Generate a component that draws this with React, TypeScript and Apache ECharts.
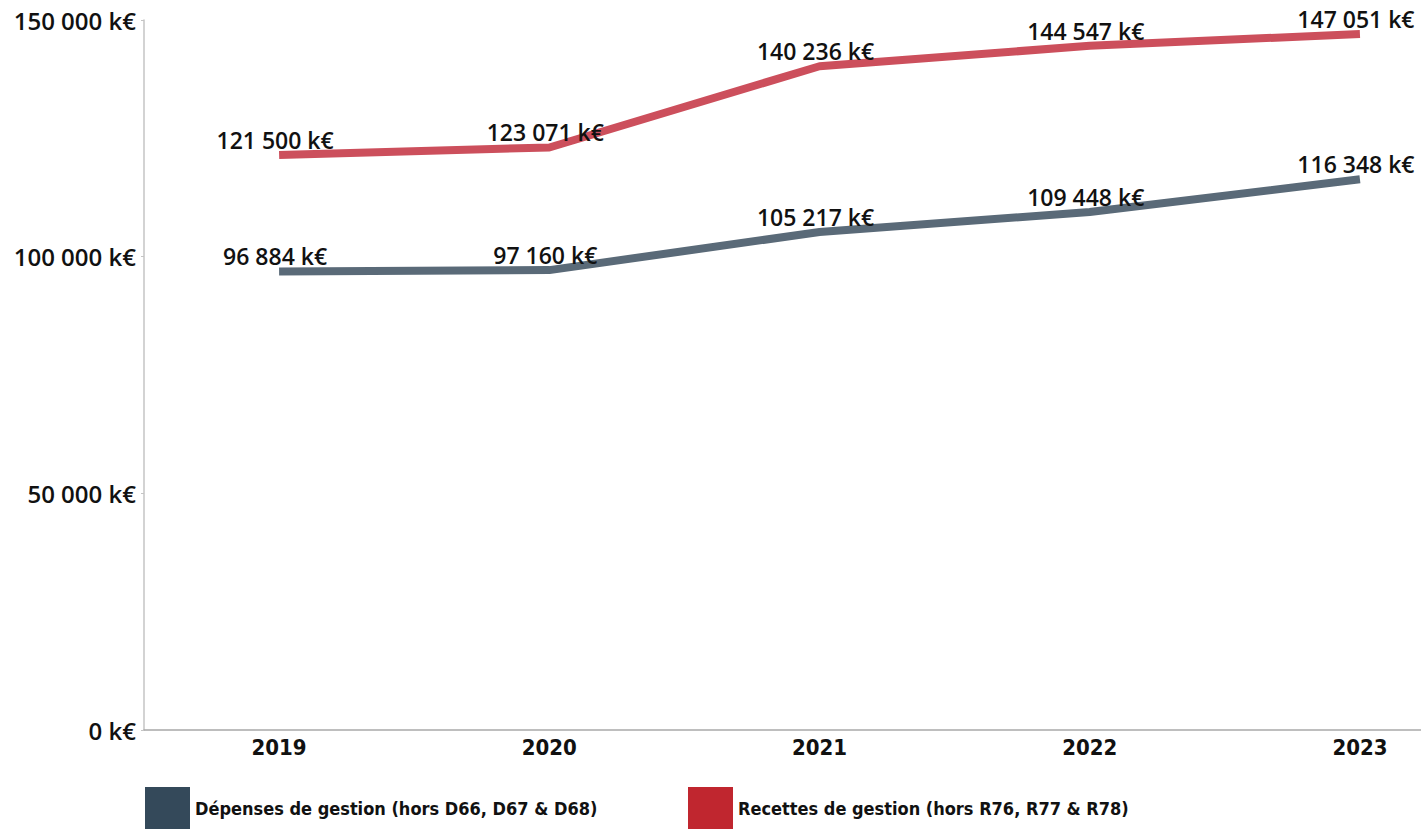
import React, { useEffect, useRef } from "react";
import * as echarts from "echarts";

const years = [2019, 2020, 2021, 2022, 2023];
const depenses = [96884, 97160, 105217, 109448, 116348];
const recettes = [121500, 123071, 140236, 144547, 147051];
const depensesName = "Dépenses de gestion (hors D66, D67 & D68)";
const recettesName = "Recettes de gestion (hors R76, R77 & R78)";
const yTicks = [0, 50000, 100000, 150000];

const fmt = (v: number) =>
  String(Math.round(v)).replace(/\B(?=(\d{3})+(?!\d))/g, " ") + " k€";

const labelFont = "'Open Sans', 'Noto Sans', sans-serif";
const narrowFont = "'Liberation Sans Narrow', 'DejaVu Sans Condensed', 'Open Sans', sans-serif";

export default function App() {
  const ref = useRef<HTMLDivElement>(null);
  useEffect(() => {
    if (!ref.current) return;
    const chart = echarts.init(ref.current, undefined, { renderer: "svg" });
    const dataLabel = {
      show: true,
      position: "top",
      distance: 3,
      offset: [-4, 0],
      color: "#111",
      fontFamily: labelFont,
      fontWeight: 600,
      fontSize: 23,
      formatter: (p: any) => fmt(p.value[1]),
    };
    const legendBase = {
      top: 787,
      padding: 0,
      icon: "rect",
      itemWidth: 45,
      itemHeight: 42,
      itemGap: 0,
      textStyle: { color: "#111", fontFamily: narrowFont, fontSize: 18, fontWeight: "bold" },
    };
    chart.setOption({
      animation: false,
      backgroundColor: "#fff",
      grid: { left: 144, right: 0, top: 20, bottom: 99 },
      xAxis: {
        type: "value",
        min: 2018.5,
        max: 2023.226,
        interval: 0.5,
        splitLine: { show: false },
        axisLine: { show: true, lineStyle: { color: "#a8a8a8", width: 1.5 } },
        axisTick: { show: false },
        axisLabel: {
          color: "#111",
          fontFamily: narrowFont,
          fontWeight: "bold",
          fontSize: 22,
          margin: 6,
          showMinLabel: false,
          showMaxLabel: false,
          formatter: (v: number) => (Number.isInteger(v) ? String(v) : ""),
        },
      },
      yAxis: {
        type: "value",
        min: yTicks[0],
        max: yTicks[yTicks.length - 1],
        interval: 50000,
        splitLine: { show: false },
        axisLine: { show: true, lineStyle: { color: "#c4c4c4", width: 1.5 } },
        axisTick: { show: true, length: 3, lineStyle: { color: "#c4c4c4" } },
        axisLabel: {
          color: "#111",
          fontFamily: labelFont,
          fontWeight: 600,
          fontSize: 24,
          margin: 8,
          formatter: (v: number) => fmt(v),
        },
      },
      legend: [
        {
          ...legendBase,
          left: 145,
          data: [{ name: depensesName, itemStyle: { color: "#34495a", opacity: 1 } }],
        },
        {
          ...legendBase,
          left: 688,
          data: [{ name: recettesName, itemStyle: { color: "#c0262f", opacity: 1 } }],
        },
      ],
      series: [
        {
          name: depensesName,
          type: "line",
          data: years.map((y, i) => [y, depenses[i]]),
          symbol: "circle",
          symbolSize: 1,
          showSymbol: true,
          lineStyle: { color: "#5a6a78", width: 8 },
          itemStyle: { color: "rgba(0,0,0,0)", borderWidth: 0 },
          label: dataLabel,
          z: 2,
        },
        {
          name: recettesName,
          type: "line",
          data: years.map((y, i) => [y, recettes[i]]),
          symbol: "circle",
          symbolSize: 1,
          showSymbol: true,
          lineStyle: { color: "#cc4f5c", width: 8 },
          itemStyle: { color: "rgba(0,0,0,0)", borderWidth: 0 },
          label: dataLabel,
          z: 2,
        },
      ],
    });
    return () => chart.dispose();
  }, []);
  return (
    <div
      ref={ref}
      style={{ position: "fixed", left: 0, top: 0, width: 1421, height: 829, background: "#fff" }}
    />
  );
}
